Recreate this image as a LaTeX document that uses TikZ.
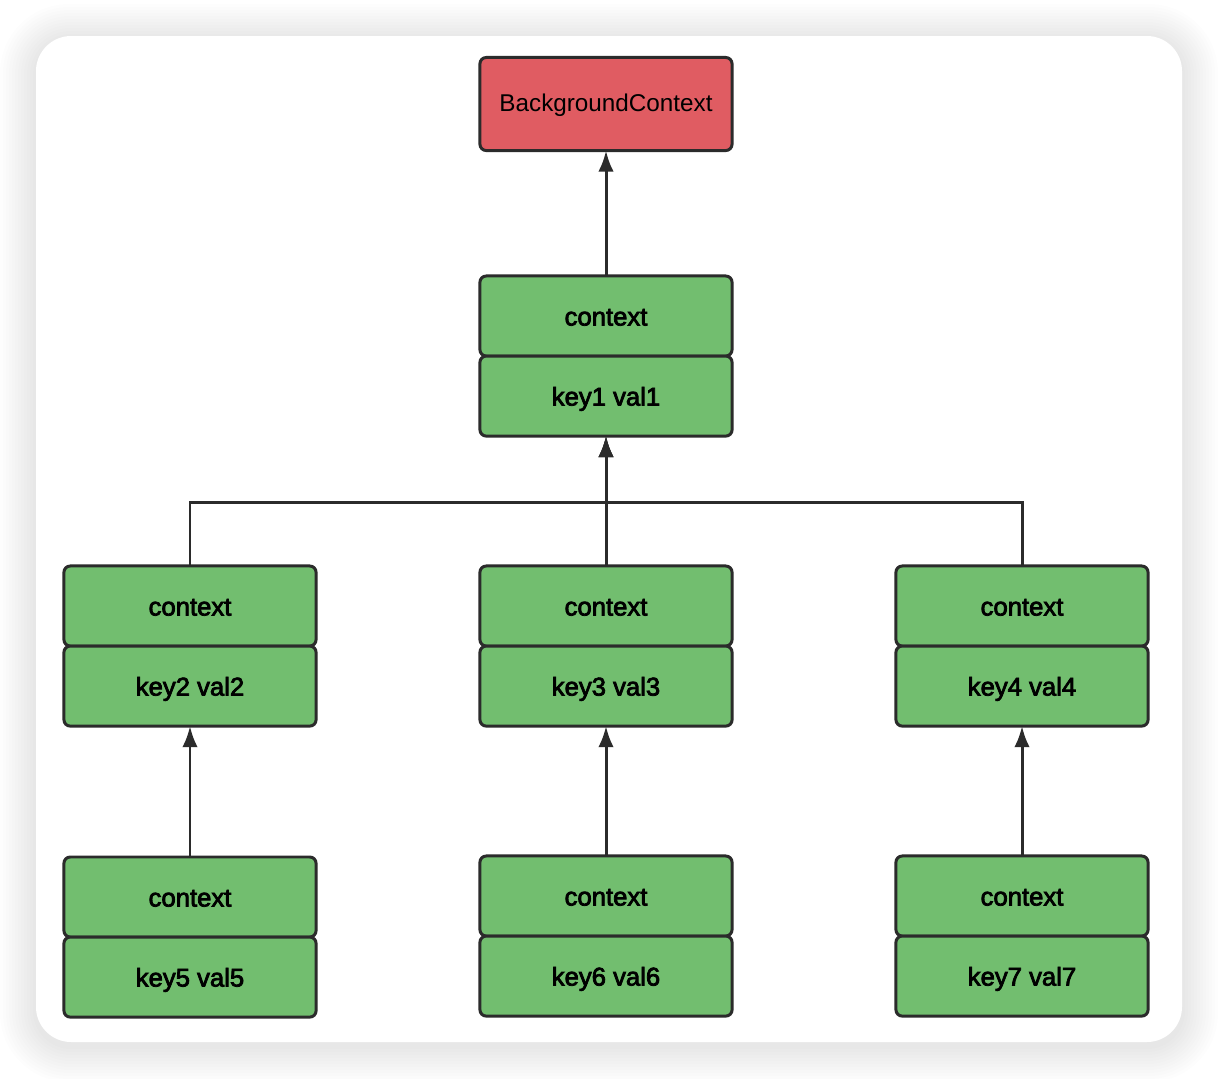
\documentclass[tikz,border=0pt]{standalone}
\usepackage{fontspec}
\setmainfont{Liberation Sans}
\newfontfamily\boxfont[FakeBold=3]{Liberation Sans}
\usetikzlibrary{positioning,arrows.meta}
\definecolor{boxgreen}{HTML}{72BE6F}
\definecolor{boxred}{HTML}{E05C62}
\definecolor{edge}{HTML}{2B2B2B}
\begin{document}
\begin{tikzpicture}[x=.01cm,y=-.01cm,
 cbox/.style={draw=edge,line width=.85pt,fill=boxgreen,rounded corners=1.8pt,minimum width=2.52cm,minimum height=.8cm,outer sep=0pt,text height=6.9pt,text depth=1.5pt,font=\boxfont\fontsize{7.3}{8}\selectfont},
 rbox/.style={cbox,fill=boxred,minimum height=.93cm,text height=5.6pt,font=\fontsize{6.9}{8}\selectfont},
 link/.style={draw=edge,line width=.85pt,-{Latex[length=6pt,width=4.4pt]}}]
\useasboundingbox (0,0) rectangle (1218,1078);
\foreach \s in {1,...,12} {\pgfmathsetmacro\rr{10+.8*\s}
 \fill[black,opacity=.008,rounded corners=\rr pt] (36-3*\s,36-3*\s+4) rectangle (1182+3*\s,1042+3*\s+4);}
\fill[white,rounded corners=10pt] (36,36) rectangle (1182,1042);
\node[rbox] (bg) at (606,104) {BackgroundContext};
\node[cbox] (c1) at (606,316) {context};
\node[cbox,below=0pt of c1] (k1) {key1 val1};
\foreach \i/\x/\y in {2/190/606,3/606/606,4/1022/606,5/190/897,6/606/896,7/1022/896} {
 \node[cbox] (c\i) at (\x,\y) {context};
 \node[cbox,below=0pt of c\i] (k\i) {key\i\ val\i};}
\coordinate (j) at (606,502);
\draw[link] (c1.north) -- (bg.south);
\foreach \a in {c2,c3,c4} \draw[link] (\a.north) |- (j) -- (k1.south);
\foreach \a/\b in {c5/k2,c6/k3,c7/k4} \draw[link] (\a.north) -- (\b.south);
\end{tikzpicture}
\end{document}
